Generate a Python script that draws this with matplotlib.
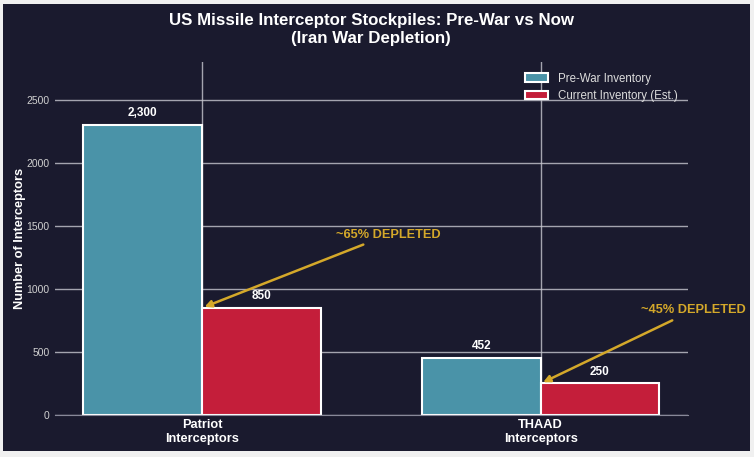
import matplotlib.pyplot as plt
import numpy as np
from matplotlib.patches import Rectangle

plt.rcParams['font.family'] = ['Liberation Sans', 'DejaVu Sans']

systems = ["Patriot\nInterceptors", "THAAD\nInterceptors"]
pre_war = [2300, 452]
current = [850, 250]
depletion = ["~65% DEPLETED", "~45% DEPLETED"]
y_ticks = [0, 500, 1000, 1500, 2000, 2500]

bg = "#1a1a2e"
teal = "#4a93a8"
red = "#c41e3a"
gold = "#d4a82a"

fig = plt.figure(figsize=(7.54, 4.57), dpi=100)
fig.patch.set_facecolor("#f0f0f0")
fig.patches.append(Rectangle((0.004, 0.013), 0.991, 0.978, transform=fig.transFigure,
                             facecolor=bg, edgecolor="none", zorder=-10))
ax = fig.add_axes([0.073, 0.092, 0.839, 0.772])
ax.set_facecolor(bg)

x = np.arange(len(systems))
w = 0.35
b1 = ax.bar(x - w / 2, pre_war, w, color=teal, edgecolor="white", linewidth=1.5,
            label="Pre-War Inventory")
b2 = ax.bar(x + w / 2, current, w, color=red, edgecolor="white", linewidth=1.5,
            label="Current Inventory (Est.)")

for bars in (b1, b2):
    for b in bars:
        h = b.get_height()
        ax.text(b.get_x() + b.get_width() / 2, h + 45, f"{int(h):,}", ha="center", va="bottom",
                color="white", fontsize=8.5, fontweight="bold")

# depletion arrows
ax.annotate(depletion[0], xy=(0.0, 850), xytext=(0.55, 1430), ha="center", va="center",
            color=gold, fontsize=9.2, fontweight="bold",
            arrowprops=dict(arrowstyle="-|>", color=gold, lw=1.8, mutation_scale=10))
ax.annotate(depletion[1], xy=(1.0, 250), xytext=(1.45, 830), ha="center", va="center",
            color=gold, fontsize=9.2, fontweight="bold",
            arrowprops=dict(arrowstyle="-|>", color=gold, lw=1.8, mutation_scale=10),
            annotation_clip=False)

ax.set_ylim(0, 2800)
ax.set_xlim(-0.434, 1.434)
ax.set_yticks(y_ticks)
ax.set_xticks(x)
ax.set_xticklabels(systems, color="white", fontsize=9.2, fontweight="bold")
ax.tick_params(axis="y", colors="#d0d0d0", labelsize=7.5, length=0, pad=4)
ax.tick_params(axis="x", length=0, pad=3)
ax.set_ylabel("Number of Interceptors", color="white", fontsize=9.2, fontweight="bold",
              labelpad=0)

ax.set_axisbelow(True)
ax.grid(True, color="#c8c8d0", linewidth=1, alpha=0.8)
for s in ("top", "right", "left"):
    ax.spines[s].set_visible(False)
ax.spines["bottom"].set_color("#888899")

ax.set_title("US Missile Interceptor Stockpiles: Pre-War vs Now\n(Iran War Depletion)",
             color="white", fontsize=12.2, fontweight="bold", pad=14)

leg = ax.legend(loc="upper right", frameon=False, fontsize=8.3)
for t in leg.get_texts():
    t.set_color("#dddddd")

fig.savefig("out.png", dpi=100, facecolor=fig.get_facecolor())
